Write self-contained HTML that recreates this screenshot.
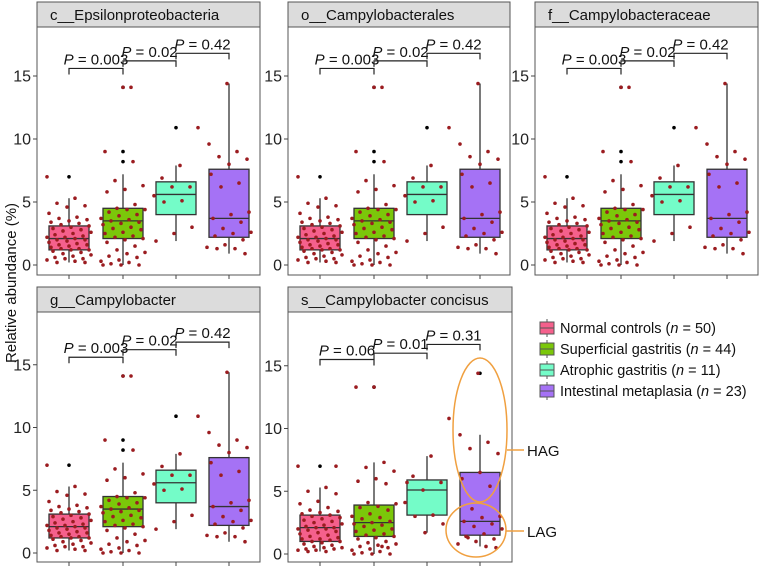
<!DOCTYPE html>
<html><head><meta charset="utf-8"><style>
html,body{margin:0;padding:0;background:#fff;}
svg{display:block;font-family:"Liberation Sans",Arial,sans-serif;}
</style></head><body>
<svg id="chart" width="761" height="568" viewBox="0 0 761 568"></svg>
<script>
const groups = ["Normal controls", "Superficial gastritis", "Atrophic gastritis", "Intestinal metaplasia"];
const groupN = [50, 44, 11, 23];
const panelTitles = ["c__Epsilonproteobacteria", "o__Campylobacterales", "f__Campylobacteraceae", "g__Campylobacter", "s__Campylobacter concisus"];
const yTicks = [0, 5, 10, 15];
// box stats per panel: [q1, median, q3, whiskerLow, whiskerHigh] per group
const statsA = [[1.2,2.1,3.1,0.2,5.3],[2.1,3.5,4.5,0.0,7.2],[4.0,5.6,6.6,1.9,7.9],[2.2,3.7,7.6,0.9,14.4]];
const statsB = [[1.0,2.1,3.1,0.2,5.3],[1.4,2.5,3.9,0.0,7.3],[3.1,5.1,5.9,1.7,7.8],[1.5,2.6,6.5,0.6,9.5]];
const outliersA = [[7.0],[8.2,9.0,14.1],[10.9],[]];
const outliersB = [[7.0],[13.3],[],[14.4]];
const pointsA = [
 [7.0,5.3,4.9,4.7,4.6,4.1,3.8,3.7,3.6,3.5,3.4,3.3,3.2,3.1,3.0,2.9,2.8,2.7,2.6,2.5,2.4,2.3,2.2,2.2,2.1,2.0,2.0,1.9,1.8,1.7,1.6,1.6,1.5,1.4,1.3,1.3,1.2,1.2,1.1,1.0,0.9,0.8,0.7,0.6,0.5,0.5,0.4,0.3,0.2,0.2],
 [14.1,9.0,8.2,6.7,6.3,6.0,5.8,4.8,4.5,4.4,4.4,4.2,4.0,3.9,3.7,3.6,3.5,3.4,3.3,3.2,3.0,2.9,2.8,2.6,2.5,2.3,2.2,2.1,2.0,1.8,1.5,1.2,1.0,0.9,0.7,0.6,0.4,0.3,0.2,0.1,0.0,0.0,0.0,14.1],
 [10.9,7.9,6.9,6.2,6.2,5.5,5.1,5.0,3.0,2.5,1.9],
 [14.4,9.6,9.0,8.6,8.4,8.0,7.2,6.5,6.2,4.2,4.0,3.7,3.4,2.9,2.6,2.5,2.3,2.0,1.6,1.4,1.3,1.3,0.9]
];
const pointsB = [
 [7.0,5.3,5.0,4.8,4.2,4.0,3.7,3.5,3.4,3.3,3.2,3.1,3.0,2.9,2.8,2.7,2.6,2.5,2.4,2.3,2.2,2.1,2.1,2.0,2.0,1.9,1.8,1.7,1.6,1.5,1.4,1.3,1.2,1.2,1.1,1.0,1.0,0.9,0.8,0.7,0.6,0.5,0.5,0.4,0.4,0.3,0.3,0.2,0.2,7.0],
 [13.3,13.3,7.3,6.9,6.6,6.0,5.8,5.6,4.1,4.0,3.8,3.7,3.5,3.2,3.0,2.9,2.8,2.6,2.5,2.4,2.3,2.2,2.0,1.9,1.8,1.6,1.5,1.4,1.3,1.2,1.0,0.9,0.8,0.7,0.6,0.5,0.4,0.3,0.2,0.1,0.0,0.0,0.0,0.6],
 [10.8,7.8,6.2,5.7,5.1,4.1,3.1,3.0,2.4,1.7,5.7],
 [14.4,9.5,8.9,8.4,8.0,6.5,6.0,5.4,3.6,3.0,2.9,2.6,2.4,2.2,2.0,1.6,1.4,1.2,1.0,0.8,0.6,1.3,0.5]
];
const pValuesA = ["0.003","0.02","0.42"];
const pValuesB = ["0.06","0.01","0.31"];
const bracketYA = [15.6,16.2,16.8];
const bracketYB = [15.5,16.0,16.7];

const fills = ["#F5608C","#7BC70A","#74FCC8","#A572F5"];
const NS="http://www.w3.org/2000/svg";
const svg=document.getElementById('chart');
function mk(tag,attrs,parent){const e=document.createElementNS(NS,tag);for(const k in attrs)e.setAttribute(k,attrs[k]);(parent||svg).appendChild(e);return e;}

const panels=[
 {x:37,w:223,top:2,bottom:275,zeroY:265,perUnit:12.6,stats:statsA,out:outliersA,pts:pointsA,pv:pValuesA,by:bracketYA},
 {x:288,w:222,top:2,bottom:275,zeroY:265,perUnit:12.6,stats:statsA,out:outliersA,pts:pointsA,pv:pValuesA,by:bracketYA},
 {x:535,w:223,top:2,bottom:275,zeroY:265,perUnit:12.6,stats:statsA,out:outliersA,pts:pointsA,pv:pValuesA,by:bracketYA},
 {x:37,w:223,top:287,bottom:562,zeroY:553,perUnit:12.55,stats:statsA,out:outliersA,pts:pointsA,pv:pValuesA,by:bracketYA},
 {x:288,w:224,top:287,bottom:562,zeroY:554,perUnit:12.55,stats:statsB,out:outliersB,pts:pointsB,pv:pValuesB,by:bracketYB}
];
const stripH=25, centerOff=[32,86,139,192], halfBox=20;

panels.forEach((p,pi)=>{
  const g=mk('g',{});
  
  
  const yS=v=>p.zeroY-v*p.perUnit;
  const xS=i=>p.x+centerOff[i];
  const plotTop=p.top+stripH;
  const strip=mk('rect',{x:p.x,y:p.top,width:p.w,height:stripH,fill:'#DCDCDC',stroke:'#555','stroke-width':1},g);
  
  
  const st=mk('text',{x:p.x+13,y:p.top+18,'font-size':15,fill:'#111'},g);
  st.textContent=panelTitles[pi];
  
  
  mk('rect',{x:p.x,y:plotTop,width:p.w,height:p.bottom-plotTop,fill:'#fff',stroke:'#555','stroke-width':1},g);
  yTicks.forEach(t=>{
    mk('line',{x1:p.x-4,x2:p.x,y1:yS(t),y2:yS(t),stroke:'#444'},g);
    const tx=mk('text',{x:p.x-6,y:yS(t)+5.5,'font-size':16,'text-anchor':'end',fill:'#222'},g);
    tx.textContent=t;
    
    
  });
  groups.forEach((gr,i)=>{
    mk('line',{x1:xS(i),x2:xS(i),y1:p.bottom,y2:p.bottom+4,stroke:'#444'},g);
    const s=p.stats[i];
    mk('line',{x1:xS(i),x2:xS(i),y1:yS(s[4]),y2:yS(s[3]),stroke:'#333','stroke-width':1.3},g);
    const b=mk('rect',{x:xS(i)-halfBox,y:yS(s[2]),width:halfBox*2,height:yS(s[0])-yS(s[2]),fill:fills[i],stroke:'#333','stroke-width':1.3},g);
    
    
    mk('line',{x1:xS(i)-halfBox,x2:xS(i)+halfBox,y1:yS(s[1]),y2:yS(s[1]),stroke:'#333','stroke-width':1.3},g);
    p.out[i].forEach(o=>{
      const c=mk('circle',{cx:xS(i),cy:yS(o),r:1.8,fill:'#000'},g);
      
      
    });
    p.pts[i].forEach((v,k)=>{
      const j=(((k*37+i*11)%23)/22-0.5)*2*22;
      const c=mk('circle',{cx:xS(i)+j,cy:yS(v),r:1.8,fill:'#9B1C20'},g);
      
      
    });
  });
  p.pv.forEach((pv,k)=>{
    const y=yS(p.by[k]), x1=xS(k), x2=xS(k+1);
    mk('path',{d:`M${x1},${y+6}V${y}H${x2}V${y+6}`,fill:'none',stroke:'#222','stroke-width':1.2},g);
    const t=mk('text',{x:(x1+x2)/2,y:y-4,'font-size':15,'text-anchor':'middle',fill:'#111'},g);
    t.innerHTML='<tspan font-style="italic">P</tspan> = '+pv;
    
    
  });
});

const yt=mk('text',{x:0,y:0,'font-size':15,'text-anchor':'middle',fill:'#111',transform:'translate(16,283) rotate(-90)'});
yt.textContent='Relative abundance (%)';



groups.forEach((gr,i)=>{
  const cy=328+i*21;
  const lg=mk('g',{});
  
  
  mk('line',{x1:547,x2:547,y1:cy-9,y2:cy+9,stroke:'#555'},lg);
  mk('rect',{x:540,y:cy-6,width:14,height:12,fill:fills[i],stroke:'#555'},lg);
  mk('line',{x1:540,x2:554,y1:cy,y2:cy,stroke:'#555'},lg);
  const t=mk('text',{x:560,y:cy+5,'font-size':14.5,fill:'#111'},lg);
  t.innerHTML=gr+' (<tspan font-style="italic">n</tspan> = '+groupN[i]+')';
});

const ann=mk('g',{});


mk('ellipse',{cx:480,cy:430,rx:27,ry:72,fill:'none',stroke:'#F0A040','stroke-width':1.5},ann);
mk('ellipse',{cx:476,cy:530,rx:30,ry:27,fill:'none',stroke:'#F0A040','stroke-width':1.5},ann);
mk('line',{x1:507,x2:524,y1:450,y2:450,stroke:'#F0A040','stroke-width':1.5},ann);
mk('line',{x1:506,x2:524,y1:531,y2:531,stroke:'#F0A040','stroke-width':1.5},ann);
const h=mk('text',{x:527,y:456,'font-size':15,fill:'#111'},ann);h.textContent='HAG';
const l=mk('text',{x:527,y:537,'font-size':15,fill:'#111'},ann);l.textContent='LAG';
</script>
</body></html>
